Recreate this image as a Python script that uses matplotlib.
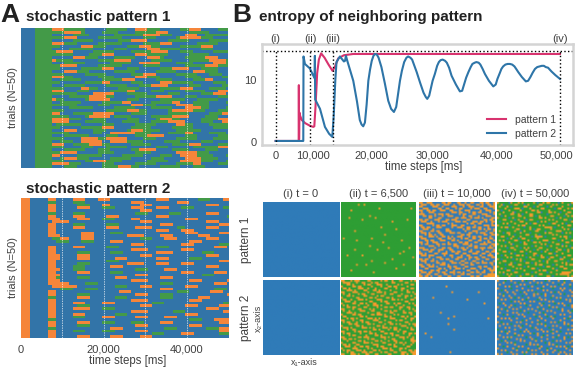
import numpy as np
from matplotlib import pyplot as plt
from matplotlib.colors import to_rgb

W, H = 575, 369

# entropy curves (time step, entropy)
p1_t = [0, 4050, 4080, 4120, 4180, 4300, 4600, 5200, 6000, 6620, 6800, 7000, 7300, 7600, 8000, 8600, 9300, 10000, 10400, 11000, 12000, 13650, 20000, 30000, 40000, 50000]
p1_v = [0.15, 0.15, 9.1, 0.4, 4.7, 4.2, 3.5, 3.0, 2.6, 2.4, 2.5, 5.5, 11.0, 13.2, 14.2, 13.5, 12.4, 11.4, 12.0, 13.4, 13.9, 14.1, 14.1, 14.1, 14.1, 14.1]
p2_t = [0, 4860, 4900, 5150, 6000, 6850, 6900, 6950, 7800, 8670, 9400, 9960, 10200, 10500, 10700, 11300, 12000, 12200, 12360, 12600, 13650, 14300, 14800, 15100, 15400, 15700, 16000, 16300, 16600, 16900, 17200, 17460, 17800, 18100, 18600, 19200, 19800, 20300, 20800, 21200, 21500, 21860, 22200, 22600, 23000, 23300, 23700, 24000, 24800, 25400, 26000, 26400, 26660, 27000, 27300, 27600, 28000, 28400, 28700, 29000, 29360, 29800, 30100, 30500, 30940, 31700, 32400, 32800, 33100, 33500, 33900, 34300, 34600, 35000, 35300, 35700, 36000, 36400, 36800, 37500, 38270, 38700, 39000, 39400, 39700, 40000, 40400, 40800, 41200, 41600, 42000, 42300, 42660, 43300, 44000, 44400, 44800, 45200, 45600, 46000, 46400, 46800, 47170, 47500, 47900, 48500, 49200, 50000]
p2_v = [0.15, 0.15, 13.7, 12.5, 11.8, 10.2, 13.8, 6.8, 5.3, 2.4, 1.3, 0.8, 4.0, 10.0, 12.8, 13.7, 12.9, 13.0, 13.8, 13.0, 9.8, 6.5, 3.5, 2.8, 2.5, 3.1, 6.0, 9.8, 11.6, 13.0, 13.8, 14.1, 14.0, 13.5, 12.0, 9.4, 6.6, 5.3, 4.8, 5.6, 7.5, 9.8, 11.4, 12.8, 13.5, 13.7, 13.5, 13.2, 11.2, 9.5, 7.9, 7.2, 6.9, 7.4, 8.6, 9.8, 10.9, 12.2, 12.8, 13.1, 13.2, 13.0, 12.7, 11.9, 10.6, 9.2, 8.1, 8.2, 9.1, 10.3, 11.2, 12.0, 12.5, 12.7, 12.8, 12.7, 12.4, 11.7, 10.9, 9.8, 8.9, 9.2, 10.1, 11.0, 11.7, 12.1, 12.4, 12.5, 12.5, 12.4, 12.1, 11.7, 11.2, 10.4, 9.7, 9.8, 10.4, 11.1, 11.7, 12.0, 12.1, 12.2, 12.2, 12.0, 11.9, 11.3, 10.7, 10.1]

snapshot_times = [0, 6100, 10000, 50000]
snapshot_labels = ["(i)", "(ii)", "(iii)", "(iv)"]
entropy_tick_pos = [0, 6600, 16900, 27600, 38800, 49400]
entropy_tick_labels = ["0", "10,000", "20,000", "30,000", "40,000", "50,000"]

# raster rows, one char per 1000 ms
p1_start = 7500
p1_rows = [
    "ooogggggbbbbbgggggbbooogggbbbbbggooobbbbgggo",
    "gggoooogbbbbggggbbbbgggggooobbbbbgggggbbbbbg",
    "bbbbbggggbbbbbbgggggggoooogggbbbooobbggggggb",
    "gggooobbbbbggggggbbbbbgggbbbbbgooooogggbbbbb",
    "bbbbbgggggbbbbbbgggoooobbbbbgggggbbbbbgggggo",
    "ooogggbbbbbggggggbbbbbggggooobbbbbbgggggbbbb",
    "ggbbbbbooogggbbbbbgggoooggbbbbbgggggooobbbbb",
    "bbbbggggggbbbbbgggbbbbbooogggggbbbbbgggbbbbb",
    "goooobbbbbgggggbbbbgggggoooobbbgggbbbbbggggg",
    "gggggbbbbgggooobbbbbooogggggbbbbbgggggbbbbbg",
    "bbbbbooogggbbbbgggggbbbooogbbbbbgggggooobbbb",
    "oggggbbbbbbggggoooobbbbbgggggbbbbgggggoooogg",
    "bbbgggggbbbbbbgggggbbooooobbbbggggbbbbbooogg",
    "ggoooobbbbbggggggbbbbbggggbbbbbbgggggooogggg",
    "ggbbbbbgggggooobbbgggbbbbbgggoooobbbggggbbbb",
    "bbbooogggbbbbbbgggggbbbbbgggggbbbbooogggbbbb",
    "gggbbbbbgggggbbbbbbgggooobbbbbgggggbbbgggbbb",
    "oooggbbbbbbggggbbbbbooogggbbbbbbggggbbbbbggg",
    "bbgggggbbbbbgggggooobbbbbggggbbbbbgggoobbbbg",
    "ggbbbbbbggggoobbbbbgggbbbbooogggggbbbbbgggbb",
    "bbbgggggbbbbbgggggbbbgggoooobbbbbgggbbbbbggg",
    "gggbbbbooggbbbbbgggggbbbbbgggggooobbbbggggbb",
    "ooobbbgggbbbbbggggoobbbbgggbbbbbgggggbbbooog",
    "ggggggbbbbooooobbbgggggbbbbbgggbbbbbgggooobb",
    "bbbbgggggooooggbbbbbgggggoooobbbgggbbbbbgggb",
    "oggbbbbbgooooobbbbgggbbbbbggggggbbbgggggbbbb",
    "bbgggggbbbbbgggggoobbbbbgggggoobbbggggbbbbgg",
    "ggggggbbbbbgggbbbbbooogggbbbbbooooggggbbbbbb",
    "bbbbggggggbbbbbgggggbbbbgggggbbbooooggbbbbgg",
    "gggbbbbbbbbbbgggggoooggbbbbbgooooogggbbbgggg",
    "oobbbgggggooooobbbbggggbbbbbgggggbbbbbgggooo",
    "ggggbbbbgooooobggggbbbbbgggggoooobbbbgggbbbb",
    "oooogggbbbgggbbbbbgggbbbbgoooggbbbbbggggoooo",
    "oooobbbbgggggbbbbggggbbbggggoooobbbbgggbbooo",
    "bggggggbbbbbgggbbbbbgggggbbbbbooggbbbbgggggo",
    "ggbbbbbgggggooobbbbgggggbbbbbgggggbbbbbggggb",
    "bbbooobbbbgggbbbbbgoooggggbbbbggggggbbbbbbbb",
    "ggggbbbbbbggbbooooooggggbbbbggggoobbbbggggbb",
    "bbbggggggbbbbgggbbbbgggoooobbbbbgggbbbbbgggg",
    "gggbbbbooooggooooobbbbgggbbbbbgggggbbbbggggb",
    "bbgggbbooooobbooooggggbbbbbggggbbbbbgggbbbbb",
    "ooobbggggoooggbbbbbgggggbbbbbggggooobbbbgggg",
    "gggbbbbgggbbbgggggbbbbbbbgggbbbbbbggggggooob",
    "bbbgggggbbbgggbbbbbggoooobbbbggggbbbbgggbbbg",
    "ggoooobbbbbggggbbbbbggggbbbbbbooooogggbbbbbb",
    "oobbbbggggggbbbbbgggggbbbbgggbbooooggggbbbgg",
    "bbgooogggbbbbbgggggbbbbbgggbbbbbooooggggbbbb",
    "gggbbbbbggoooggggbbbbbbgggggbbbooooogggbbbgg",
    "oooogggbbbbbgggbbbbbgggggbbbbbggggoobbbbgggb",
    "bbbgggbbbbbbggggoooggbbbbbgggggbbbgggbbbbbbg",
]
p2_start = 6500
p2_rows = [
    "oobbbbooobbbooobbbbbbbbbbbooobbbbbbbgggbbboo",
    "ggbbbbgggbbbbbbbbbbbooobbbbbbbbooobbbbbbbbbb",
    "oobbbbbgggbbboobbbbbbbooobbbbbbbbbbbbbooobbb",
    "oobbbbbooobbbgggbbbbooobbbooobbbgggbbbbbbbgg",
    "oobbbbbbbbbbbbbbbbbbbbooobbbbbbbbbbbbbbbbbbb",
    "ggbbbbgggbbbbbbbbbbbbgggbbbbbgggbbbbbbooobbb",
    "oobbbbooobbbbbooobbbbbbbbbooobbbbbbbbbbbbbbg",
    "ooobbbbooobbbgggbbbboobbbbbbbbbbbooobbbbbbbb",
    "boooobbbbbbbbbbbbbbbbbooobbbbbbbbbbbbbooobbb",
    "oobbbbgggbbbbbgggbbbbbbbbbbooobbbbbbbbbbbooo",
    "oobbbbooobbbbbooobbbboooobbbbbbggbbbbbooobbb",
    "oobbbbbbbbbbbbbbbbbbbbbbbbooobbbooobbbbbbbbb",
    "oobbbbbbooobbbbgggbbbbbbbbbbbbbbbooobbbbbooo",
    "ooobbbbbooobbbbbbbboooobbbbooobbbbbbooobbbbb",
    "bggoobbbooobbbbbbbbbbbgggbbbooobbbbbbbooobbb",
    "bbgggbbbgggbbbbooobbbbbbbbbbbbbbbbooobbbbbbb",
    "bbbbbbbbbbbbbbbbbbbbooobbbbbbbbbooobbbbbbggg",
    "oobbbbooobbbbbgggbbbbbbbbbgggbbbbbbbbbbbooob",
    "oobbbbbbbbbbbbbbbbbboooobbbbbbbbooobbbbbbbbb",
    "oobbbbbgggbbbbbgggbbbbbbbboooobbbbbbbgggbbbb",
    "ooobbbbooobbbbbbbbbbbbooobbbbbbbbbbbbbooobbb",
    "ooobbbbooobbbbbbooobbbbbbbooobbbbbgggbbbbbbb",
    "oobbbbbbbbbbbbgggbbbbbbbbbbbbbbbbbbbbbbbbooo",
    "oobbbbbgggbbbbbbbbboooobbbooobbbooobbbbbbbbb",
    "oobbbbgggbbbbbbooobbbbbbbbbbbbbbbbbbbbooobbb",
    "ooobbbgggbbbbbbbbbbbbgggbbbbooobbbbbbbbbbbbb",
    "oobbbbbooobbbbbgggbbbbbbbbbbbbbbooobbbbbooob",
    "ooobbbbbbbbbbbbbbbbbbooobbbbbbbbbbbbbgggbbbb",
    "oogbbbbgggbbbbbbooobbbbbbbbooobbbbbbbbbbbbbb",
    "ooobbbbbbbbbbbbbbbbboooobbbbbbbbbbooobbbbbbo",
    "ooooobbbbgggbbbbbbbbbbbbbbbgggbbbbbbbbbbooob",
    "boooooobbbbbbbbbgggbbbooobbbbbbbbooobbbbbbbb",
    "bbbgggbbbgggbbbbbbbbbbbbbbbooobbbbbbbbbbgggb",
    "oobbbbbbbbbbbbbbbooobbbbbbbbbbbgggbbbbbooobb",
    "oobbbbbgggbbbbbbbbbbbooobbbgggbbbbbbbbbbbbbo",
    "ggbbbbbooobbbbbbgggbbbbbbbbgggbbbbbbooobbbbb",
    "oobbbbbbbbbbbbbbbbbboooobbbbbbbbbbooobbbbbbb",
    "oobbbbooobbbbooobbbbbbbbbgggbbbbbbbbbbbbbbgg",
    "oobbbbbgggbbbbbbbbbbbbooobbbbbbbbooobbbbbooo",
    "oobbbboooobbbgggbbbbbbbbbbbbbbbbbbbbbbooobbb",
    "oobbbbbbbbbbbbbbbbbboooobbbbbbgggbbbbbbbbbooo",
    "oobbbbooobbbbbbbgggbbbbbbbbbbbbbbooobbbbbbbb",
    "oobbbbgggbbbbooobbbbbooobbbbooobbbbbbbbbbbbb",
    "ggbbbbbbbbbbbbbbbbbbbbbbbbbbbbbbbbgggbbboooo",
    "oobbbbbooobbbgggbbbbgggbbbbooobbbbbbbbbbbooo",
    "oobbbbbgggbbbbbbbbbbbooobbbbbbbbbbooobbbbbbb",
    "ggbbbbbbbbbbbbbooobbbbbbbbbbgggbbbbbbbgggooo",
    "oobbbbgggbbbbgggbbbbbooobbbbbbbbbbbbbbbbbooo",
    "oobbbbbbbbbbbbbbbbbbbbbbbgggbbbbooobbbbbbggg",
    "oobbbbbooobbbbbooobbbbooobbbbbbbbbbbbbbbbbbb",
]

# snapshot grids, one char per cell
p1_iii_grid = [
    "oo..ooo.....oo.oo...oo..o..oo...oo.oo..o",
    ".ooo..oo.oo..ooo..o..ooo.oo...oo.o..oo.o",
    "oo.....ooo..o....ooo...o..ooo...oo...ooo",
    "..ooo.....oo..oo...o.oo....o.ooo..oo...o",
    "oo..oo.oo..ooo..oo...o..ooo.....o..ooo..",
    ".o...ooo.........ooo.oo...o.oo.oo....o.o",
    "ooo.....o.ooo.oo.....o.oo...oo...ooo...o",
    "..oo.oo.o...o..ooo.....o..oo...o...ooo..",
    ".....oo...oo.......oo.ooo..o.ooo.o....oo",
    "oo.oo...ooo...oo.ooo.....oo.......oo.oo.",
    ".ooo..o...o.ooo....ooo.oo...ooo.oo.o..oo",
    "....oooo.......o.o.......o.oo..oo.....o.",
    "oo.....o.oo.oo...ooo..oo.....o....ooo.oo",
    ".oo.oo...ooo.....o..ooo..oo.oo.oo...o...",
    "..ooo..o......oo.......o.oo....oo.o.oo.o",
    "oo....oo.oo...ooo.......o...ooo....o...o",
    ".ooo.o....oo....ooo.oo....oo..o.ooo..oo.",
    "...o.oo.o..oo.........oo.oo.......oo..oo",
    "oo...ooo.o..oo.o.o..ooo...o.oo.oo....o..",
    ".ooo......oo...oo.o...o.oo..oo..o.oo.oo.",
    "...oo.oo...ooo...oo.o.....oo...oo...o..o",
    "oo..o..ooo.....o.....oo.oo...oo...o.oo..",
    ".o.oo....oo.oo.oo.oo...ooo.o....oooo..oo",
    ".....ooo..o.......ooo.....oo.oo......o.o",
    "ooo.....o...oo.oo...o.oo.o...oo.ooo.ooo.",
    "..ooo.oo..ooo...oo.....oo..o.....o.....o",
    "o....oo...o...o..oo.oo....oo..oo...oo.oo",
    "oo.o....oo..ooo....oo..oo...ooo..oo..o..",
    ".ooo.ooo.....o..oo....o..oo.....o...ooo.",
    ".....o...ooo.....o..ooo...oo.oo..oo...oo",
    "oo.oo..o...oo.oo...oo...o.o...oo...oo...",
    ".ooo..oo.o......oo....oo....oo...o.....o",
    "...o.....oo.oo...ooo.o..oo.o..oo.ooo.oo.",
    "oo..oo.o...ooo.o......oo...oo.........o.",
    ".oo..ooo.o.....oo.oo....oo.....oo.oo...o",
    "...oo.....oo.o..o..ooo.o...ooo..o...oo.o",
    "oo....oo.oo...o...o......oo...o...o..ooo",
    ".ooo.oo...o.oo..ooo.oo.o...oo.oo.oo...o.",
    "o...oo..oo...oo...o...oo.oo.....o...oooo",
    "oo.oo.o...oo...oo...oo.....oo.oo..oooooo",
]
p2_ii_grid = [
    "oo...o.ooo....oo.....o.oo..o...oo....o.o",
    ".oooo...o..oo...o.oo.......oo.....oo....",
    "...oo.o.....o.oo...ooo..o.....o.o....oo.",
    "o.....oo.oo.....o....o...oo.oo.....o....",
    ".oo.o....ooo..o...o....oo....o..oo...oo.",
    "...ooo.o....oo...oo.o.....o.....o..o....",
    "oo....ooo.....o....ooo.o....oo.....oo.o.",
    ".o..o....o.oo...oo.....o..oo....o......o",
    "...oo.o.....oo.....o.oo.......oo..oo.o..",
    "o.......oo.....oo.o.....oo.o......o....o",
    ".oo..o...ooo.o.....ooo.....oo.o.o....oo.",
    "..ooo..o.......oo....o.oo.........oo....",
    "o.....oo..oo.o...oo.....oo..o.oo....o.o.",
    ".o.o.....o....o..ooo.o.......o...o.....o",
    "...oo.oo....oo.....o...oo.oo...oo..oo...",
    "oo....o..oo....o.o...o.........o....o.o.",
    ".o..o.....ooo...oo.....oo.o.oo...o.....o",
    "...ooo.o......o....oo.....oo.....oo.oo..",
    "o.....oo.oo.....oo.ooo.o....o.o......o..",
    ".oo.......oo.o.........oo.o.....oo.o...o",
    "...o.oo.o.....ooo.o.o.....ooo.....o..oo.",
    "oo....o...oo.....ooo...o.....o.oo....o..",
    ".o.oo...o..o.oo.....oo...oo.......oo....",
    "....oo.oo.....oo.o.....o..oo.o.o....o.oo",
    "o.......oo.o.......oo.o.........ooo....o",
    ".ooo.o.....ooo.o.o....ooo.o.oo.....o.o..",
    "...o..oo.........oo.o....o..oo.o.....oo.",
    "oo.....o.oo.oo.o.....oo.......o..oo.....",
    ".o.oo.....o....oo.o....oo.oo.....o..oo.o",
    "....o.oo.....o....oo.o.....o.oo.....o...",
    "oo.......oo.ooo......ooo.o.....ooo.o..o.",
    ".oo.oo.o......o.oo.....o...oo....o...oo.",
    "...o.....oo.o.....oo.o...o..oo.......ooo",
    "o.....oo....ooo.o.....oo.....o.oo.o...o.",
    ".oo.o...oo.......ooo.....oo.o....o...o..",
    "..ooo..o..oo.oo....o.oo.....oo.....oo...",
    "o.....ooo.....o.o.....ooo.o....oo.o.....",
    ".o.oo...ooo.o....oo.o.....oo...o....oo.o",
    "...o.oo....ooo.oo....o.oo...oo..ooo..ooo",
    "oo...ooo.o...oo...oo.....oo.....oo.o..oo",
]
p1_iv_grid = [
    "o.....bo...o.o.....o.b..o.oo....b.o....o",
    "..ob.....oo...b.o.....oo.....o.o.....ob.",
    ".o...o.b......oo...b.o....b.o.....o.....",
    "....o....ooo.b...o.....oo.....b.oo...o.o",
    "o.b...o.....o.....oo.o.....o.......o....",
    "...o....ob.....o.....oob...oo.o..b...oo.",
    ".o.....oo..o.b...oo.......b.....o...o...",
    "..b.o......oo....oo.b.o.....oo.....b.o.o",
    "o.....b.o.....o.......oo.o.....b.o......",
    "...oo....b.o...b.oo........o.o.....oo.b.",
    ".b.....o....oo.......b.o.o.....o.......o",
    "...o.o...o.....o.b.oo......b.oo...o.b...",
    "o.....b....o.oo.......o.o.......o....oo.",
    "..o.oo..o.....b..o.......oooo.b...o.....",
    ".....b....oo.....o.b.oo.....o......o.o.b",
    ".o.......o..b.o.....oo...b.....ooo......",
    "...b.oo.....o....b.......o.oo.....b.o.o.",
    "o.....o..b.....oo...o.b......o.o........",
    "..oo....o...o.....b.oooo.b.......o.oo.b.",
    ".....b.o...b.oo......o.......oo.....o...",
    ".o.o.....oo.....o.b.....ooo.....b.o....o",
    "....b.o.....b.o....oo.o....b.o......oo..",
    "o......ob.....oo.......o.o.....oo.b.....",
    "..o.o.....o.......b.o.....b.o.....o.o.b.",
    ".....b.oo...b.o.o.....oo.......o.......o",
    ".o.......o.....o...b.o....o.b...oo.b.o..",
    "...oo.b.....oo...o.....b.o.....o.....o..",
    "o......o.b.....b...oo......oo.b...o.....",
    "..b.o.....oo.o.....o.b.o.......o.....oo.",
    ".....o.o.......b.o.....oo.b.oo...b.o....",
    "o.b.....b.o.o.....oo.......o.....oo....o",
    "...oo.......o.b.......o.b.o...oo.....b..",
    ".o.....o.b.....oo.b.o.....o.......o.o...",
    "....b.oo...oo.......o.oo.....b.o....o.oo",
    "o.......o.....b.o.......b.oo.....oo.....",
    "..o.b.....o.o.....oo.b.......o.b...oo...",
    ".....oo.b.....o.......o.oo.....o.......o",
    ".o.o.....oo.......b.o.....b.o.....ooooo.",
    "...b.o.o.....b.oo.....oo.......o.ooooo..",
    "o.....o...b.o.....o.b.....oo.b.......o.o",
]
p2_iv_grid = [
    "o...g..o.....o.g...o.....g.o....o..g...o",
    "...o.....o.g.....o...o.o.....o.....o....",
    ".o.....g....o.o.....g.....o.....g.o...o.",
    "....o.o...o.....g.o.....o...o.o.......g.",
    "o......g.....o.......o.g.....g...o.o....",
    "..g.o.....o.....o.o.....o.o.......o...o.",
    ".....o..o...g.o.....g.......o.g.o......o",
    ".o.g.....o.....o...o.o.g.o.......o.g....",
    "...o..o......g.....o.....o...o.......o.o",
    "o......o.g.o....o.....o.....g..o.o......",
    "..o.o........o.g.....g.o.o.......g..o.o.",
    ".......g.o.o.....o.o.......o.o........o.",
    ".g.o........o.o.......o.g.....g.o.o.....",
    "....o..o.g.....g.o.....o...o.......o.g.o",
    "o.....o.....o........o.....g.o.o.......o",
    "..o.g...o.o.....o.o...g.o.......g.o.....",
    ".....o......g.o.....o.....o.o.....o..o.g",
    ".o......o.o.....g.....o.g.....o.......o.",
    "...g.o.....o.o.....o.....o.......o.o....",
    "o.......g.....o.....g.o...g.o.g.......o.",
    "..o.o.o...o......o.....o.....o.....o.g..",
    ".......o.....g.o.....o...o.......o.....o",
    "o.g.......o.o.....o...g.....o.o.g..o....",
    "...o.o.g.......o.....o.o.g.........o.o..",
    ".o.......o.o.g...o.......o...o.o.....g.o",
    "....o.o.....o.....g.o......g.....o......",
    "g........o.....o.....o.o.....o.......o.o",
    "..o.g.o.....g.o.o.......o.o.g..o.g......",
    ".....o...o.......o.g.o.......o......o.o.",
    ".o.......g.o.o.......o..g.o.....o.......",
    "...o.o.o.......g.o.....o.....o.g...o.g.o",
    "o.....g...o.o.....o.g.....o........o....",
    "..g.o.......o.o.....o..o.....g.o.o.....o",
    ".....o.o.g.......o.......g.o........o.o.",
    ".o.......o.....g.o.o.o.....o.o.g........",
    "...g.o.....o.o.......g.o.......o.o.o.g.o",
    "o.......o.g.....o.....o...g.o.......o...",
    "..o.o.....o.....g.o.o.....o...o.g.....o.",
    ".....g.o.....o.o.......o.....o...o.o....",
    "o.o.....o.o...g...o.o...o.o.....o...o.o.",
]
# sparse grids: orange cells as (column, row) on a 40 x 40 lattice
p1_ii_orange = [(9, 1), (12, 1), (5, 4), (15, 7), (18, 8), (21, 13), (1, 19), (7, 15), (16, 19), (23, 17),
                (29, 14), (27, 10), (35, 9), (8, 20), (15, 23), (22, 21), (31, 27), (33, 26), (27, 30), (23, 32),
                (8, 33), (5, 36), (17, 37), (33, 33), (13, 33), (36, 24), (3, 28), (19, 25), (37, 3), (29, 35),
                (11, 9), (4, 8), (20, 3), (32, 20), (25, 24), (11, 28), (16, 31), (38, 29), (7, 25)]
p2_iii_orange = [(14, 3), (17, 6), (7, 9), (25, 10), (34, 12), (11, 17), (15, 20), (18, 19), (15, 23), (18, 26),
                 (36, 20), (3, 28), (6, 30), (16, 38), (31, 6)]

raster_colors = {"b": "#3274a8", "g": "#439a48", "o": "#f5853a"}
blue, green, orange = "#2f7bb8", "#2e9e34", "#f59a2e"

plt.rcParams["font.family"] = ["Liberation Sans", "DejaVu Sans"]
text_gray = "#404040"

fig = plt.figure(figsize=(W / 100, H / 100), dpi=100)


def px_axes(left, top, right, bottom):
    return fig.add_axes([left / W, 1 - bottom / H, (right - left) / W, (bottom - top) / H])


def px_text(x, y, s, size=8, color=text_gray, ha="center", va="center", **kw):
    fig.text(x / W, 1 - y / H, s, fontsize=size, color=color, ha=ha, va=va, **kw)


def draw_raster(ax, prefix, rows, start):
    n = max(len(r) for r in rows)
    img = np.array([[to_rgb(raster_colors[c]) for c in r.ljust(n, r[-1])] for r in rows])
    ax.imshow(img, extent=(start, start + 1000 * n, len(rows), 0), aspect="auto", interpolation="nearest")
    for x0, x1, c in prefix:
        ax.axvspan(x0, x1, color=raster_colors[c], lw=0)
    ax.set_xlim(0, 50000)
    ax.set_ylim(len(rows), 0)
    ax.set_yticks([])
    for s in ax.spines.values():
        s.set_visible(False)
    for x in [10000, 20000, 30000, 40000]:
        ax.axvline(x, color="white", lw=0.5, ls=(0, (2, 1.5)), alpha=0.9)


# A
ax1 = px_axes(21, 28, 228, 168)
draw_raster(ax1, [(0, 3400, "b"), (3400, 7500, "g")], p1_rows, p1_start)
ax1.set_xticks([])
ax2 = px_axes(21, 198, 228, 338)
draw_raster(ax2, [(0, 2200, "o"), (2200, 6500, "b")], p2_rows, p2_start)
ax2.set_xticks([0, 20000, 40000], ["0", "20,000", "40,000"], fontsize=8, color=text_gray)
ax2.tick_params(axis="x", length=0, pad=5)

px_text(0, 15, "A", size=19, color="#222222", ha="left", fontweight="bold")
px_text(26, 17, "stochastic pattern 1", size=11, color="#222222", ha="left", fontweight="bold")
px_text(26, 189, "stochastic pattern 2", size=11, color="#222222", ha="left", fontweight="bold")
px_text(13, 98, "trials (N=50)", rotation=90)
px_text(13, 268, "trials (N=50)", rotation=90)
px_text(128, 361, "time steps [ms]", size=8.3)

# B, entropy
ax3 = px_axes(262, 44, 573, 145)
ax3.plot(p1_t, p1_v, color="#d8336f", lw=1.5, label="pattern 1")
ax3.plot(p2_t, p2_v, color="#2e75a8", lw=1.5, label="pattern 2")
ax3.set_xlim(-2400, 52290)
ax3.set_ylim(-0.5, 15.7)
ax3.axhline(14.5, color="black", lw=1, ls=":")
ax3.vlines(snapshot_times, -0.5, 14.5, color="black", lw=1, ls=":")
ax3.set_xticks(entropy_tick_pos, entropy_tick_labels, fontsize=8, color=text_gray)
ax3.set_yticks([0, 10], ["0", "10"], fontsize=8, color=text_gray)
ax3.tick_params(length=0, pad=4)
for s in ax3.spines.values():
    s.set_color("#d4d4d4")
    s.set_linewidth(1.8)
ax3.legend(loc="lower right", frameon=False, fontsize=7.5, labelcolor=text_gray, handlelength=1.9,
           labelspacing=0.35, bbox_to_anchor=(0.965, 0.0), borderaxespad=0.2, handletextpad=0.8)
for t, label in zip(snapshot_times, snapshot_labels):
    ax3.text(t, 1.0, label, transform=ax3.get_xaxis_transform(), fontsize=8, color=text_gray, ha="center", va="bottom")

px_text(232, 15, "B", size=19, color="#222222", ha="left", fontweight="bold")
px_text(259, 17, "entropy of neighboring pattern", size=11, color="#222222", ha="left", fontweight="bold")
px_text(424, 167, "time steps [ms]", size=8.3)


# B, snapshots
def grid_image(rows, back):
    lookup = {".": back, "o": orange, "g": green, "b": blue}
    return np.array([[to_rgb(lookup[c]) for c in r] for r in rows])


def sparse_image(cells, back):
    img = np.tile(to_rgb(back), (40, 40, 1))
    for col, row in cells:
        img[row, col] = to_rgb(orange)
    return img


panel_left = [263, 341, 419, 497]
panel_right = [339, 416, 494, 573]
panel_top = [202, 280]
panel_bottom = [277, 355]
panel_titles = ["(i) t = 0", "(ii) t = 6,500", "(iii) t = 10,000", "(iv) t = 50,000"]
panels = [
    [np.tile(to_rgb(blue), (2, 2, 1)), sparse_image(p1_ii_orange, green), grid_image(p1_iii_grid, blue), grid_image(p1_iv_grid, green)],
    [np.tile(to_rgb(blue), (2, 2, 1)), grid_image(p2_ii_grid, green), sparse_image(p2_iii_orange, blue), grid_image(p2_iv_grid, blue)],
]
for i in range(2):
    for j in range(4):
        ax = px_axes(panel_left[j], panel_top[i], panel_right[j], panel_bottom[i])
        ax.imshow(panels[i][j], aspect="auto", interpolation="bilinear")
        ax.axis("off")
for j, title in enumerate(panel_titles):
    px_text((panel_left[j] + panel_right[j]) / 2, 194, title)
px_text(246, 240, "pattern 1", size=8.5, rotation=90)
px_text(246, 318, "pattern 2", size=8.5, rotation=90)
px_text(258, 318, "x₂-axis", size=6.5, rotation=90)
px_text(304, 363, "x₁-axis", size=6.5)

fig.savefig("out.png", dpi=100)
